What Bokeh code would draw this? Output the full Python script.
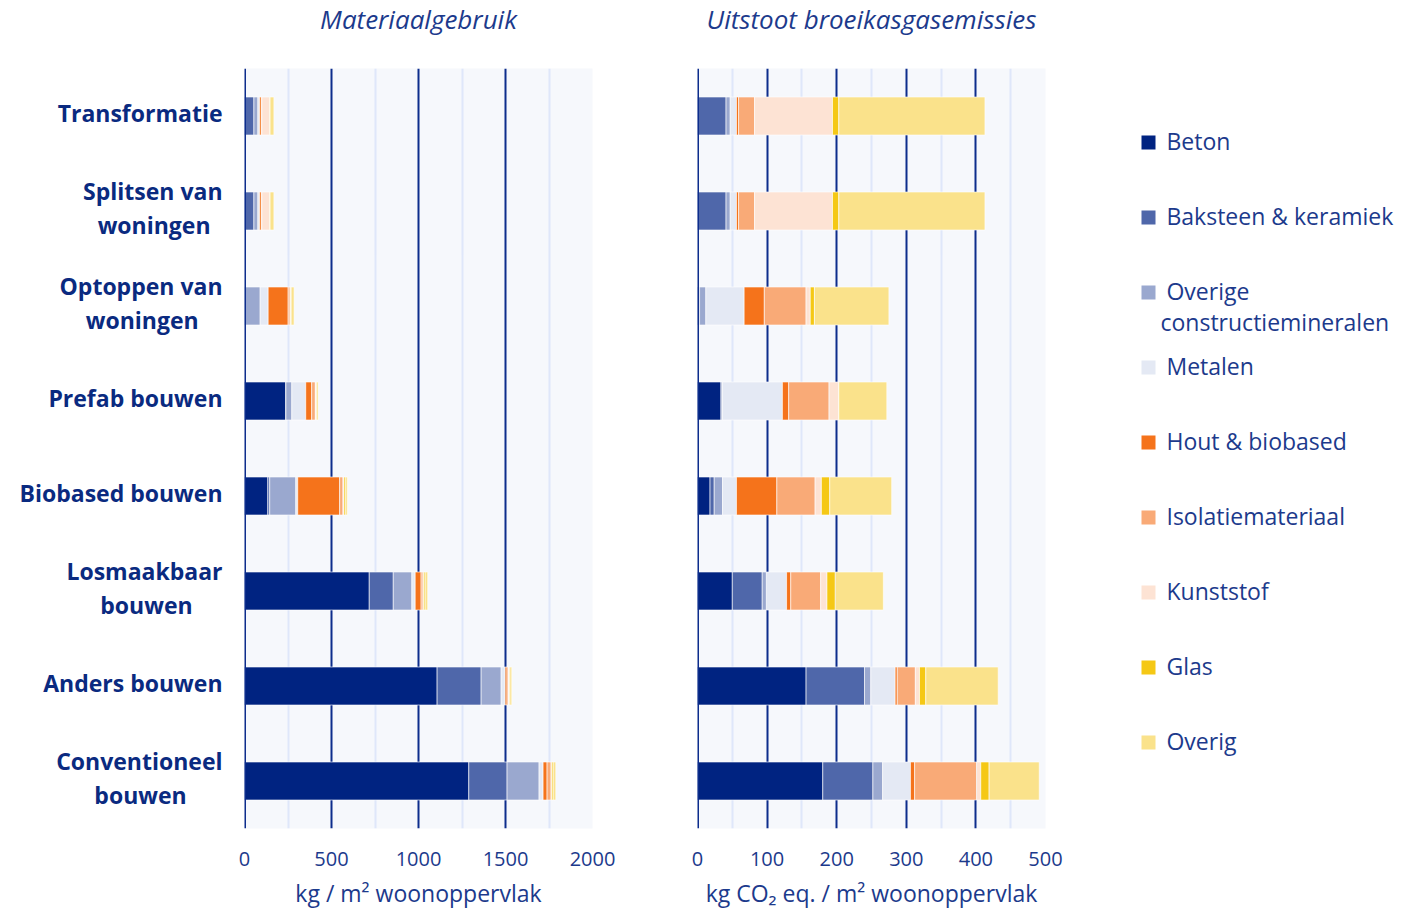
import numpy as np
from bokeh.plotting import figure
from bokeh.layouts import row, column
from bokeh.models import Range1d, FactorRange, FixedTicker, ColumnDataSource, Span
from bokeh.embed import file_html
from bokeh.resources import INLINE
from bokeh.core.properties import value

NB = "\u00a0"

# ---------------- data ----------------
categories = ["Transformatie", "Splitsen van woningen", "Optoppen van woningen",
              "Prefab bouwen", "Biobased bouwen", "Losmaakbaar bouwen",
              "Anders bouwen", "Conventioneel bouwen"]
category_labels = ["Transformatie",
                   "Splitsen van\nwoningen" + NB * 2,
                   "Optoppen van\nwoningen" + NB * 4,
                   "Prefab bouwen", "Biobased bouwen",
                   "Losmaakbaar\nbouwen" + NB * 5,
                   "Anders bouwen",
                   "Conventioneel\nbouwen" + NB * 6]

titles = ["Materiaalgebruik", "Uitstoot broeikasgasemissies"]
x_labels = ["kg / m² woonoppervlak", "kg CO₂ eq. / m² woonoppervlak"]

materials = ["Beton", "Baksteen & keramiek", "Overige\nconstructiemineralen", "Metalen",
             "Hout & biobased", "Isolatiemateriaal", "Kunststof", "Glas", "Overig"]
colors = ["#002381", "#4f67aa", "#9aa8cf", "#e4e9f4", "#f5731b",
          "#f9aa77", "#fde3d4", "#f5c815", "#fae28b"]

# Materiaalgebruik (kg / m2 woonoppervlak)
beton_m     = [0, 0, 0, 238, 134, 717, 1107, 1289]
baksteen_m  = [54, 54, 2, 0, 11, 138, 253, 220]
overige_m   = [23, 23, 88, 34, 150, 107, 115, 184]
metalen_m   = [10, 10, 46, 80, 11, 19, 23, 23]
hout_m      = [10, 10, 115, 34, 241, 34, 11, 23]
isolatie_m  = [3, 3, 11, 21, 19, 11, 8, 23]
kunststof_m = [45, 45, 4, 4, 6, 4, 4, 4]
glas_m      = [2, 2, 2, 2, 10, 8, 4, 8]
overig_m    = [22, 22, 17, 10, 10, 15, 11, 15]

# Uitstoot broeikasgasemissies (kg CO2 eq. / m2 woonoppervlak)
beton_c     = [0, 0, 0, 34, 18, 50, 156, 180]
baksteen_c  = [41, 41, 3, 0, 6, 43, 84, 72]
overige_c   = [6, 6, 9, 2, 12, 6, 9, 14]
metalen_c   = [9, 9, 55, 86, 20, 29, 35, 40]
hout_c      = [3, 3, 29, 9, 58, 6, 3, 6]
isolatie_c  = [23, 23, 60, 58, 55, 43, 26, 89]
kunststof_c = [112, 112, 6, 14, 9, 9, 6, 6]
glas_c      = [9, 9, 6, 0, 12, 12, 9, 12]
overig_c    = [210, 210, 107, 69, 89, 69, 104, 72]

left_ticks = [0, 500, 1000, 1500, 2000]
left_minor = [250, 750, 1250, 1750]
right_ticks = [0, 100, 200, 300, 400, 500]
right_minor = [50, 150, 250, 350, 450]

# ---------------- style / layout ----------------
NAVY = "#0d2d8c"
LABEL = "#0a2a80"
TXT = "#1c3a8c"
FONT = "Open Sans"
TH = 48          # title strip height
H = 864          # main row height
TOP = 20
BOTTOM = 84
FW = 348         # frame width
LBW = 236
W1L, W1R = 8, 50
W2L, W2R = 55, 30
LW = 326
W1 = W1L + FW + W1R
W2 = W2L + FW + W2R
TOTAL_W = LBW + W1 + W2 + LW

yr = FactorRange(factors=categories[::-1])


def make_fig(width, x_end, ticks, minor, data, xlabel, bl, br):
    p = figure(width=width, height=H, x_range=Range1d(0, x_end), y_range=yr,
               output_backend="svg", toolbar_location=None,
               min_border_left=bl, min_border_right=br,
               min_border_top=TOP, min_border_bottom=BOTTOM)
    p.background_fill_color = "#f6f8fc"
    p.border_fill_color = "white"
    p.outline_line_color = None

    keys = ["s%d" % i for i in range(len(materials))]
    src = ColumnDataSource(dict(cat=categories, **{k: d for k, d in zip(keys, data)}))
    p.hbar_stack(keys, y="cat", height=0.4, fill_color=colors, line_color="white",
                 line_width=1, line_alpha=0.6, source=src)

    p.xaxis.ticker = FixedTicker(ticks=ticks, minor_ticks=minor)
    p.xgrid.grid_line_color = NAVY
    p.xgrid.grid_line_width = 2
    p.xgrid.minor_grid_line_color = "#dfe7fa"
    p.xgrid.minor_grid_line_width = 2
    p.ygrid.grid_line_color = None

    p.xaxis.axis_line_color = None
    p.xaxis.major_tick_line_color = None
    p.xaxis.minor_tick_line_color = None
    p.xaxis.major_tick_out = 0
    p.xaxis.minor_tick_out = 0
    p.xaxis.major_label_standoff = 23
    p.xaxis.major_label_text_font = FONT
    p.xaxis.major_label_text_font_size = "20px"
    p.xaxis.major_label_text_color = TXT
    p.xaxis.axis_label = xlabel
    p.xaxis.axis_label_standoff = 8
    p.xaxis.axis_label_text_font = FONT
    p.xaxis.axis_label_text_font_size = "23px"
    p.xaxis.axis_label_text_font_style = "normal"
    p.xaxis.axis_label_text_color = TXT

    p.yaxis.visible = False
    p.add_layout(Span(location=0, dimension="height", line_color=NAVY, line_width=3))
    return p


def blank(width, height, xr, yrange, top=0, bottom=0):
    f = figure(width=width, height=height, x_range=xr, y_range=yrange,
               output_backend="svg", toolbar_location=None,
               min_border_left=0, min_border_right=0, min_border_top=top, min_border_bottom=bottom)
    f.axis.visible = False
    f.grid.visible = False
    f.outline_line_color = None
    f.background_fill_color = "white"
    f.border_fill_color = "white"
    return f


data_m = [beton_m, baksteen_m, overige_m, metalen_m, hout_m, isolatie_m, kunststof_m, glas_m, overig_m]
data_c = [beton_c, baksteen_c, overige_c, metalen_c, hout_c, isolatie_c, kunststof_c, glas_c, overig_c]

# ---------------- titles strip ----------------
tf = blank(TOTAL_W, TH, Range1d(0, TOTAL_W), Range1d(0, TH))
title_x = [LBW + W1L + FW / 2, LBW + W1 + W2L + FW / 2]
tf.text(x=title_x, y=[TH - 18, TH - 18], text=titles, text_font=value(FONT),
        text_font_size="26px", text_font_style="italic", text_color=TXT,
        text_align="center", text_baseline="middle")

# ---------------- category labels ----------------
lb = blank(LBW, H, Range1d(0, LBW), yr, TOP, BOTTOM)
csrc = ColumnDataSource(dict(y=categories, x=np.full(len(categories), 222.0), t=category_labels))
lb.text(x="x", y="y", text="t", text_font=value(FONT), text_font_size="23px",
        text_font_style="bold", text_color=LABEL, text_align="right",
        text_baseline="middle", text_line_height=1.08, y_offset=-3, source=csrc)

p1 = make_fig(W1, 2000, left_ticks, left_minor, data_m, x_labels[0], W1L, W1R)
p2 = make_fig(W2, 500, right_ticks, right_minor, data_c, x_labels[1], W2L, W2R)

# ---------------- legend ----------------
lg = blank(LW, H, Range1d(0, LW), Range1d(9.1467, -0.9867), TOP, BOTTOM)
idx = np.arange(len(materials))
lsrc = ColumnDataSource(dict(x=np.full(len(materials), 73.0), tx=np.full(len(materials), 85.0),
                             y=idx, ty=idx - 0.23, c=colors,
                             t=[NB + m for m in materials]))
lg.scatter(x="x", y="y", marker="square", size=14, fill_color="c", line_color=None, source=lsrc)
lg.text(x="tx", y="ty", text="t", text_font=value(FONT), text_font_size="23px",
        text_color=TXT, text_baseline="top", text_align="left", text_line_height=0.95,
        source=lsrc)

layout = column(tf, row(lb, p1, p2, lg), spacing=0)
open("out.html", "w").write(file_html(layout, INLINE))
